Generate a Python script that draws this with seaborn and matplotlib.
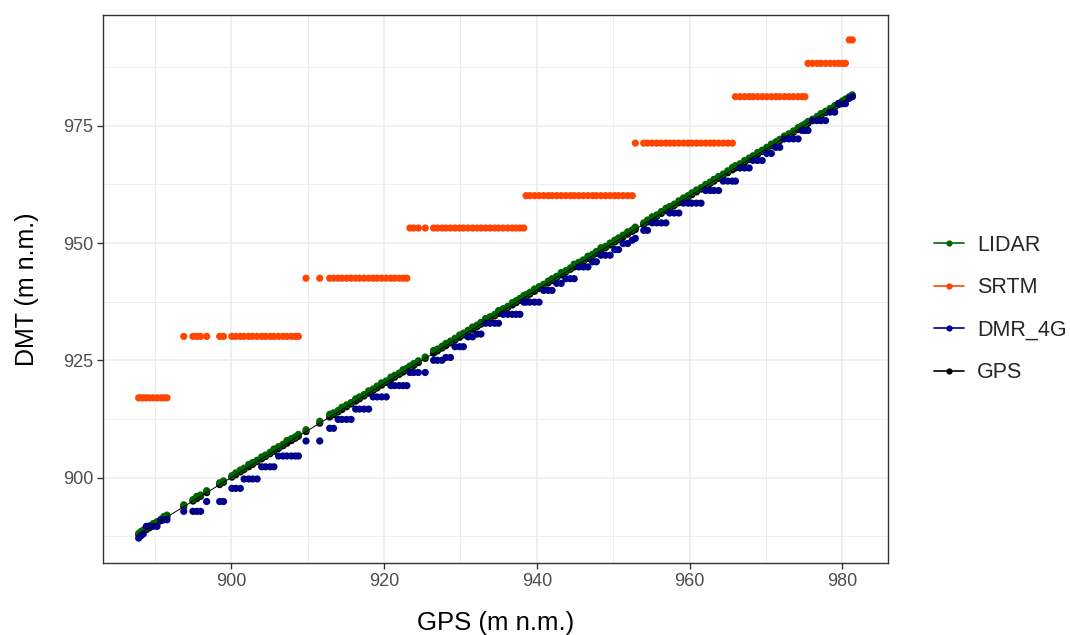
import numpy as np
import pandas as pd
import matplotlib
matplotlib.use("Agg")
import matplotlib.pyplot as plt
from matplotlib.lines import Line2D
from matplotlib.ticker import MultipleLocator
import seaborn as sns

# ---------------- data ----------------
gps = [
    887.9, 888.2, 888.5, 888.9, 889.3, 889.8, 890.3, 890.8, 891.2, 891.6,
    893.8, 895.0, 895.5, 896.0, 896.8, 898.5, 899.0, 900.1, 900.6, 901.2, 901.7, 902.3,
    902.8, 903.4, 904.0, 904.5, 905.1, 905.6, 906.2, 906.8, 907.3, 907.9, 908.4, 908.8,
    909.8, 911.6, 912.9, 913.4, 914.0, 914.5, 915.1, 915.7, 916.3, 916.8, 917.4, 918.0,
    918.6, 919.1, 919.7, 920.3, 920.9, 921.4, 922.0, 922.5, 923.0,
    923.4, 923.9, 924.5, 925.4, 926.5, 927.0, 927.6, 928.1, 928.7, 929.3, 929.9, 930.4,
    931.0, 931.6, 932.2, 932.7, 933.3, 933.9, 934.5, 935.0, 935.6, 936.2, 936.8, 937.3,
    937.8, 938.3,
    938.6, 939.1, 939.7, 940.3, 940.9, 941.5, 942.0, 942.6, 943.2, 943.8, 944.4, 944.9,
    945.5, 946.1, 946.7, 947.3, 947.8, 948.4, 949.0, 949.6, 950.2, 950.7, 951.3, 951.9, 952.5,
    952.9, 954.0, 954.5, 955.1, 955.7, 956.3, 956.9, 957.4, 958.0, 958.6, 959.2, 959.8,
    960.3, 960.9, 961.5, 962.1, 962.7, 963.2, 963.8, 964.4, 965.0, 965.6,
    966.0, 966.6, 967.2, 967.8, 968.3, 968.9, 969.5, 970.1, 970.7, 971.3, 971.8, 972.4,
    973.0, 973.6, 974.2, 974.7, 975.1,
    975.5, 976.1, 976.7, 977.2, 977.8, 978.4, 979.0, 979.5, 980.0, 980.4,
    980.9, 981.3,
]

lidar = [
    888.1, 888.5, 888.8, 889.3, 889.7, 890.2, 890.6, 891.1, 891.7, 892.0,
    894.2, 895.3, 896.0, 896.3, 897.2, 898.9, 899.3, 900.4, 901.0, 901.6, 902.0, 902.8,
    903.2, 903.7, 904.4, 904.8, 905.4, 906.1, 906.6, 907.1, 907.9, 908.3, 908.7, 909.2,
    910.2, 912.0, 913.5, 913.8, 914.3, 915.0, 915.5, 916.0, 916.8, 917.2, 917.7, 918.5,
    918.9, 919.5, 920.2, 920.6, 921.4, 921.8, 922.3, 923.0, 923.3,
    923.8, 924.3, 924.9, 925.7, 927.1, 927.4, 928.0, 928.6, 929.1, 929.7, 930.4, 930.8,
    931.4, 932.1, 932.5, 933.1, 933.9, 934.3, 934.8, 935.6, 936.0, 936.5, 937.3, 937.7,
    938.2, 938.8,
    939.0, 939.5, 940.2, 940.7, 941.2, 941.9, 942.4, 942.9, 943.7, 944.1, 944.7, 945.5,
    945.9, 946.4, 947.2, 947.6, 948.2, 949.0, 949.3, 950.0, 950.6, 951.1, 951.7, 952.4, 952.8,
    953.4, 954.3, 954.9, 955.6, 956.0, 956.7, 957.4, 957.8, 958.3, 959.0, 959.6, 960.1,
    960.7, 961.3, 961.8, 962.5, 963.0, 963.6, 964.2, 964.7, 965.4, 966.1,
    966.5, 966.9, 967.6, 968.1, 968.6, 969.3, 969.8, 970.4, 971.1, 971.6, 972.1, 972.8,
    973.3, 973.9, 974.6, 975.0, 975.4,
    975.9, 976.4, 977.0, 977.6, 978.1, 978.7, 979.3, 979.8, 980.3, 980.7,
    981.2, 981.6,
]

dmr_4g = [
    887.1, 887.6, 888.0, 889.6, 889.6, 889.6, 889.6, 891.0, 891.0, 891.0,
    892.8, 892.8, 892.8, 892.8, 894.9, 894.9, 894.9, 897.7, 897.7, 897.7, 899.7, 899.7,
    899.7, 899.7, 902.3, 902.3, 902.3, 902.3, 904.6, 904.6, 904.6, 904.6, 904.6, 904.6,
    907.8, 907.8, 910.5, 910.5, 912.4, 912.4, 912.4, 912.4, 914.6, 914.6, 914.6, 914.6,
    917.2, 917.2, 917.2, 917.2, 919.6, 919.6, 919.6, 919.6, 919.6,
    922.4, 922.4, 922.4, 922.4, 925.0, 925.0, 925.0, 925.6, 925.6, 927.9, 927.9, 927.9,
    930.0, 930.0, 930.6, 930.6, 932.9, 932.9, 932.9, 932.9, 934.8, 934.8, 934.8, 934.8,
    934.8, 937.4,
    937.4, 937.4, 937.4, 937.4, 939.9, 939.9, 939.9, 941.4, 941.4, 942.4, 942.4, 942.4,
    944.9, 944.9, 944.9, 946.0, 946.0, 947.4, 947.4, 947.4, 948.6, 948.6, 949.9, 949.9, 950.6,
    951.0, 952.7, 952.7, 954.3, 954.3, 954.3, 954.3, 956.4, 956.4, 956.4, 958.5, 958.5,
    958.5, 958.5, 958.5, 961.2, 961.2, 961.2, 961.2, 963.2, 963.2, 963.2,
    963.2, 966.0, 966.0, 966.0, 967.6, 967.6, 967.6, 969.1, 969.1, 970.4, 970.4, 972.2,
    972.2, 972.2, 972.2, 974.0, 974.0,
    974.0, 976.1, 976.1, 976.1, 976.1, 977.9, 977.9, 979.7, 979.7, 979.7,
    980.9, 981.2,
]

# SRTM plateaus: value and number of consecutive GPS points on each plateau
srtm_levels = [917.0, 930.1, 942.5, 953.2, 960.1, 971.3, 981.2, 988.3, 993.3]
srtm_counts = [10, 24, 21, 26, 25, 22, 17, 10, 2]
srtm = list(np.repeat(srtm_levels, srtm_counts))

series_names = ["LIDAR", "SRTM", "DMR_4G", "GPS"]
series_colors = {"LIDAR": "#006400", "SRTM": "#FF4500", "DMR_4G": "#00008B", "GPS": "#000000"}

x_ticks = [900, 920, 940, 960, 980]
y_ticks = [900, 925, 950, 975]

df = pd.concat([
    pd.DataFrame({"GPS": gps, "DMT": gps, "series": "GPS"}),
    pd.DataFrame({"GPS": gps, "DMT": lidar, "series": "LIDAR"}),
    pd.DataFrame({"GPS": gps, "DMT": srtm, "series": "SRTM"}),
    pd.DataFrame({"GPS": gps, "DMT": dmr_4g, "series": "DMR_4G"}),
], ignore_index=True)

# ---------------- styling ----------------
sns.set_theme(style="white")
plt.rcParams["font.family"] = ["Liberation Sans", "DejaVu Sans"]

fig = plt.figure(figsize=(10.7, 6.35), dpi=100)
ax = fig.add_axes([103 / 1070, 1 - 563 / 635, (888 - 103) / 1070, (563 - 15) / 635])
ax.set_facecolor("white")

grid_c = "#EBEBEB"
ax.xaxis.set_major_locator(MultipleLocator(20))
ax.xaxis.set_minor_locator(MultipleLocator(10))
ax.yaxis.set_major_locator(MultipleLocator(25))
ax.yaxis.set_minor_locator(MultipleLocator(12.5))
ax.grid(which="major", color=grid_c, linewidth=1.1, zorder=0)
ax.grid(which="minor", color=grid_c, linewidth=0.6, zorder=0)
ax.set_axisbelow(True)

# points
order = ["GPS", "LIDAR", "SRTM", "DMR_4G"]
for name in order:
    sub = df[df["series"] == name]
    sns.scatterplot(data=sub, x="GPS", y="DMT", color=series_colors[name], s=27,
                    linewidth=0, edgecolor="none", ax=ax, legend=False, zorder=3)
# GPS reference line
sns.lineplot(data=df[df["series"] == "GPS"], x="GPS", y="DMT", color="black",
             linewidth=0.7, ax=ax, legend=False, zorder=4, estimator=None, sort=True)

# ggplot-like expanded limits
xr = (min(gps), max(gps))
yall = gps + lidar + srtm + dmr_4g
yr = (min(yall), max(yall))
xpad = 0.05 * (xr[1] - xr[0])
ypad = 0.05 * (yr[1] - yr[0])
ax.set_xlim(xr[0] - xpad, xr[1] + xpad)
ax.set_ylim(yr[0] - ypad, yr[1] + ypad)

ax.set_xticks(x_ticks)
ax.set_yticks(y_ticks)
ax.set_xticklabels([str(t) for t in x_ticks])
ax.set_yticklabels([str(t) for t in y_ticks])
ax.tick_params(axis="both", which="major", direction="out", length=4, width=1,
               color="#333333", labelcolor="#4D4D4D", labelsize=13, pad=3,
               bottom=True, left=True)
ax.tick_params(axis="both", which="minor", length=0)

for sp in ax.spines.values():
    sp.set_color("#333333")
    sp.set_linewidth(1.0)
    sp.set_visible(True)

ax.set_xlabel("GPS (m n.m.)", fontsize=18.5, color="black", labelpad=15)
ax.set_ylabel("DMT (m n.m.)", fontsize=18, color="black", labelpad=17)

handles = [Line2D([0], [0], color=series_colors[n], lw=1.2, marker="o", markersize=4.5,
                  markeredgewidth=0) for n in series_names]
fig.legend(handles, series_names, loc="center left",
           bbox_to_anchor=(934 / 1070, 1 - 309 / 635), frameon=False,
           fontsize=15.5, handlelength=1.4, handletextpad=0.6, labelspacing=1.0,
           borderaxespad=0, borderpad=0)

fig.savefig("out.png", dpi=100, facecolor="white")
